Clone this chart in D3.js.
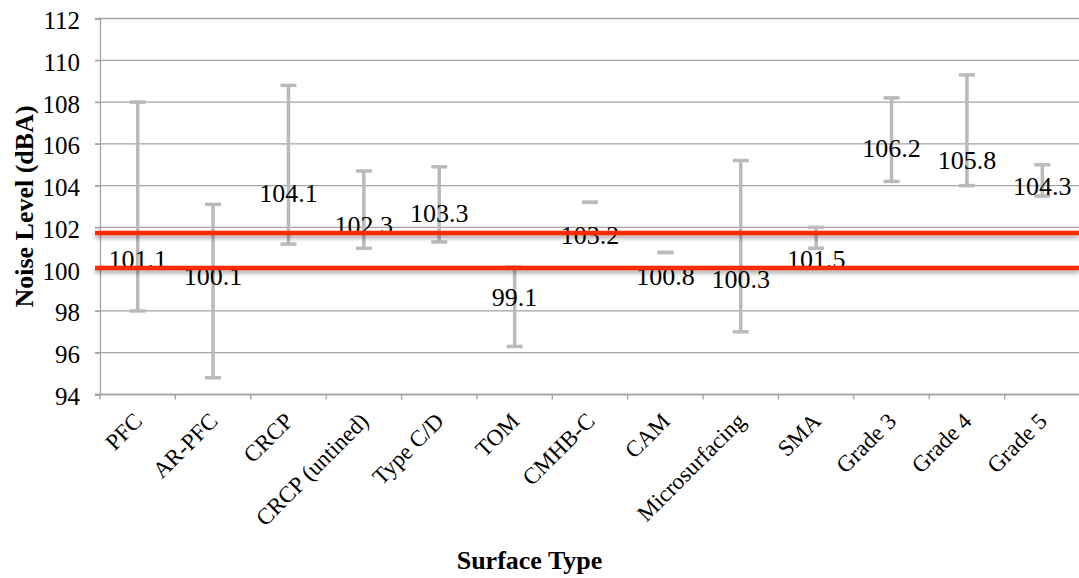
<!DOCTYPE html>
<html>
<head>
<meta charset="utf-8">
<script src="https://cdn.jsdelivr.net/npm/d3@7"></script>
<style>
  body { margin: 0; background: #fff; }
  text { font-family: "Liberation Serif", "Times New Roman", Times, serif; fill: #000; }
</style>
</head>
<body>
<svg id="chart" width="1079" height="578"></svg>
<script>
// noise level per surface type (dBA): mean with low / high range
const surfaces = ['PFC', 'AR-PFC', 'CRCP', 'CRCP (untined)', 'Type C/D', 'TOM', 'CMHB-C',
    'CAM', 'Microsurfacing', 'SMA', 'Grade 3', 'Grade 4', 'Grade 5'];
const meanLevel = [101.1, 100.1, 104.1, 102.3, 103.3, 99.1, 103.2, 100.8, 100.3, 101.5, 106.2, 105.8, 104.3];
const lowLevel = [98.0, 94.8, 101.2, 101.0, 101.3, 96.3, 103.2, 100.8, 97.0, 101.0, 104.2, 104.0, 103.5];
const highLevel = [108.0, 103.1, 108.8, 104.7, 104.9, 100.1, 103.2, 100.8, 105.2, 102.0, 108.2, 109.3, 105.0];
const yTicks = [94, 96, 98, 100, 102, 104, 106, 108, 110, 112];
const refLines = [100.05, 101.73];

const svg = d3.select('#chart');
const plotLeft = 100, plotRight = 1080, plotTop = 18.5, plotBottom = 394.5;

const x = d3.scaleBand().domain(surfaces).range([plotLeft, plotRight]);
const y = d3.scaleLinear().domain([94, 112]).range([plotBottom, plotTop]);

// shadow under the red lines (user space, a flat line has no bbox height)
svg.append('defs').append('filter')
    .attr('id', 'shade').attr('filterUnits', 'userSpaceOnUse')
    .attr('x', 0).attr('y', 0).attr('width', 1079).attr('height', 578)
    .append('feDropShadow')
    .attr('dx', 0).attr('dy', 3).attr('stdDeviation', 2)
    .attr('flood-color', '#000').attr('flood-opacity', 0.35);

// gridlines
svg.append('g').selectAll('line').data(yTicks).join('line')
    .attr('x1', plotLeft - 5).attr('x2', plotRight)
    .attr('y1', d => y(d)).attr('y2', d => y(d))
    .attr('stroke', '#a3a3a3').attr('stroke-width', 1.3);

// y axis
const yAxis = svg.append('g').attr('transform', `translate(${plotLeft},0)`)
    .call(d3.axisLeft(y).tickValues(yTicks).tickSize(5).tickPadding(15).tickFormat(d3.format('d')));
yAxis.select('.domain').attr('stroke', '#a3a3a3').attr('stroke-width', 1.3);
yAxis.selectAll('.tick line').attr('stroke', '#a3a3a3').attr('stroke-width', 1.3);
yAxis.selectAll('.tick text').attr('dy', 10).attr('font-size', 25);

// x axis: ticks sit between categories
const xAxis = svg.append('g').attr('transform', `translate(0,${plotBottom})`);
xAxis.append('line').attr('x1', plotLeft - 5).attr('x2', plotRight)
    .attr('stroke', '#a3a3a3').attr('stroke-width', 1.3);
xAxis.selectAll('line.tk').data(surfaces.concat(['end'])).join('line').attr('class', 'tk')
    .attr('x1', (d, i) => plotLeft + i * x.step()).attr('x2', (d, i) => plotLeft + i * x.step())
    .attr('y1', 0).attr('y2', 5)
    .attr('stroke', '#a3a3a3').attr('stroke-width', 1.3);
xAxis.selectAll('text').data(surfaces).join('text')
    .attr('transform', d => `translate(${x(d) + x.bandwidth() / 2 + 6},${28}) rotate(-45)`)
    .attr('text-anchor', 'end')
    .attr('font-size', 23)
    .text(d => d);

// error bars
const capW = 8;
const bars = svg.append('g').attr('stroke', '#bababa').attr('stroke-width', 3.5);
surfaces.forEach((s, i) => {
    const cx = x(s) + x.bandwidth() / 2;
    bars.append('line').attr('x1', cx).attr('x2', cx)
        .attr('y1', y(lowLevel[i])).attr('y2', y(highLevel[i]));
    [lowLevel[i], highLevel[i]].forEach(v => {
        bars.append('line').attr('x1', cx - capW).attr('x2', cx + capW)
            .attr('y1', y(v)).attr('y2', y(v));
    });
});

// mean labels, each dragged a little below its point as in the source
const labelDrop = [22, 18, 18, 13, 22, 18.5, 41.5, 33, 25, 30, 17.5, 21, 16];
svg.append('g').selectAll('text').data(meanLevel).join('text')
    .attr('x', (d, i) => x(surfaces[i]) + x.bandwidth() / 2)
    .attr('y', (d, i) => y(d) + labelDrop[i])
    .attr('text-anchor', 'middle')
    .attr('font-size', 26)
    .text(d => d.toFixed(1));

// reference lines
svg.append('g').selectAll('line').data(refLines).join('line')
    .attr('x1', plotLeft - 5).attr('x2', 1079)
    .attr('y1', d => y(d)).attr('y2', d => y(d))
    .attr('stroke', '#ff2a00').attr('stroke-width', 4.5)
    .attr('filter', 'url(#shade)');

// axis titles
svg.append('text')
    .attr('transform', 'translate(33,206.5) rotate(-90)')
    .attr('text-anchor', 'middle').attr('font-size', 26).attr('font-weight', 'bold')
    .text('Noise Level (dBA)');
svg.append('text')
    .attr('x', 529.5).attr('y', 569)
    .attr('text-anchor', 'middle').attr('font-size', 26).attr('font-weight', 'bold')
    .text('Surface Type');
</script>
</body>
</html>
